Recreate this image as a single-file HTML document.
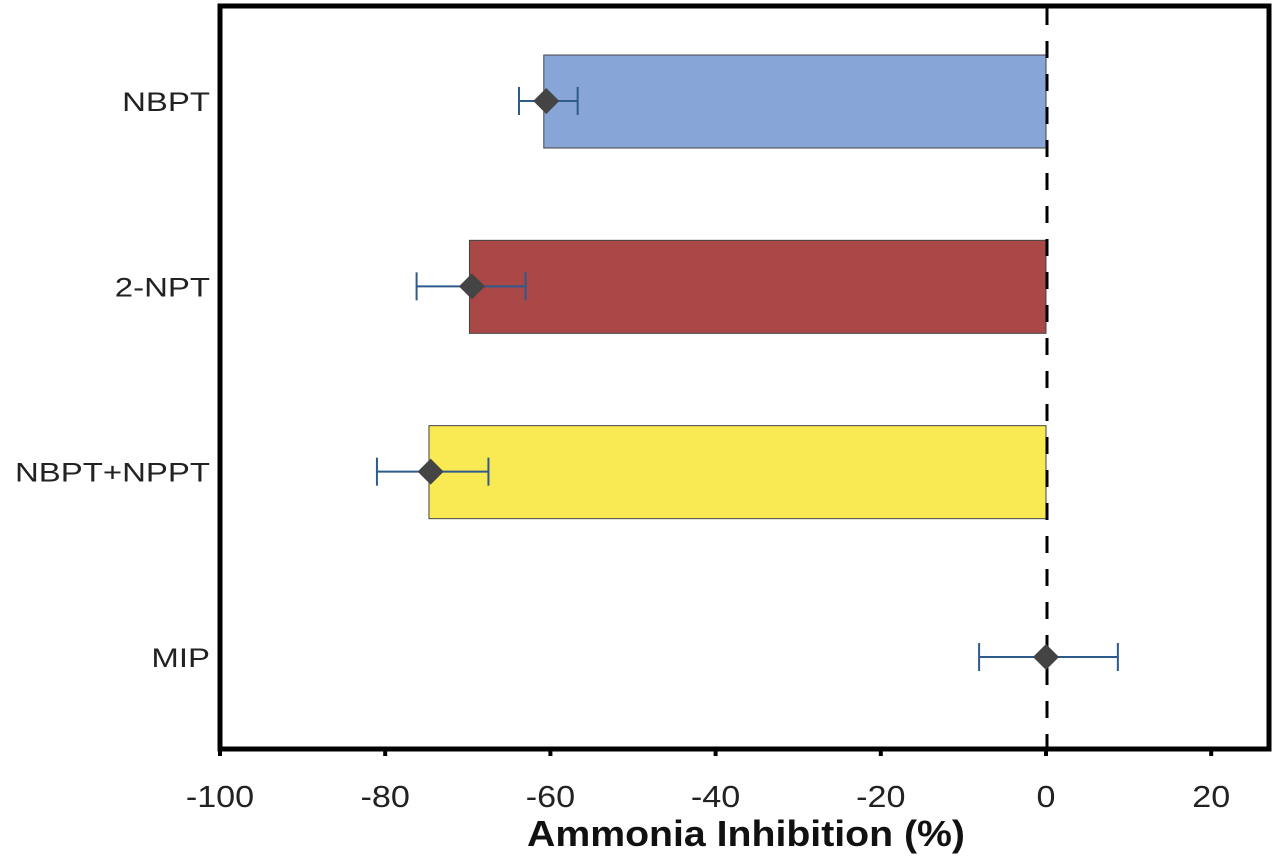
<!DOCTYPE html>
<html><head><meta charset="utf-8"><style>
body{margin:0;background:#fff;width:1279px;height:854px;overflow:hidden}
text{font-family:"Liberation Sans",Arial,sans-serif}
</style></head><body>
<svg id="c" width="1279" height="854"></svg>
<script>
const categories=["NBPT","2-NPT","NBPT+NPPT","MIP"];
const barValues=[-60.8,-69.8,-74.7,0];
const meanValues=[-60.5,-69.5,-74.5,0];
const errLow=[-63.8,-76.2,-81,-8.1];
const errHigh=[-56.7,-63,-67.5,8.7];
const barColors=["#87a5d7","#a94847","#f9e952","#ffffff"];
const xTicks=[-100,-80,-60,-40,-20,0,20];
const ns="http://www.w3.org/2000/svg";
const svg=document.getElementById('c');
function X(v){return 1046+(v)*8.26;}
const rowY=[101,286,472,657];
function Y(i){return rowY[0]+i*((rowY[3]-rowY[0])/3);}
function mk(t,a,p){const e=document.createElementNS(ns,t);for(const k in a)e.setAttribute(k,a[k]);(p||svg).appendChild(e);return e;}
let e;
e=mk('rect',{x:220,y:6,width:1049,height:743,fill:'none',stroke:'#000','stroke-width':5});


for(let i=0;i<categories.length;i++){
  const y=Y(i);
  if(barValues[i]!==0){
    e=mk('rect',{x:X(barValues[i]),y:y-46,width:X(0)-X(barValues[i]),height:93,fill:barColors[i],stroke:'#444','stroke-width':1});
    
    
  }
  const s=categories[i];
  let w=0;for(const ch of s)w+=(ch==='-'?0.333:ch==='+'?0.584:ch==='2'?0.556:ch==='I'?0.278:ch==='M'?0.833:0.667);
  e=mk('text',{x:210,y:y+10,'text-anchor':'end','font-size':27,fill:'#222','textLength':w*27*1.22,'lengthAdjust':'spacingAndGlyphs'});
  e.textContent=s;
  
  
}
e=mk('line',{x1:X(0)+1,x2:X(0)+1,y1:8,y2:747,stroke:'#000','stroke-width':3,'stroke-dasharray':'17 16'});


for(let i=0;i<categories.length;i++){
  const y=Y(i);
  const g=mk('g',{});
  
  
  mk('line',{x1:X(errLow[i]),x2:X(errHigh[i]),y1:y,y2:y,stroke:'#2e5a8e','stroke-width':2},g);
  mk('line',{x1:X(errLow[i]),x2:X(errLow[i]),y1:y-14,y2:y+14,stroke:'#2e5a8e','stroke-width':2},g);
  mk('line',{x1:X(errHigh[i]),x2:X(errHigh[i]),y1:y-14,y2:y+14,stroke:'#2e5a8e','stroke-width':2},g);
  const cx=X(meanValues[i]);
  e=mk('polygon',{points:`${cx},${y-13} ${cx+13},${y} ${cx},${y+13} ${cx-13},${y}`,fill:'#444'});
  
  
}
for(const t of xTicks){
  e=mk('line',{x1:X(t),x2:X(t),y1:749,y2:756,stroke:'#000','stroke-width':4});
  
  
  e=mk('text',{x:X(t),y:807,'text-anchor':'middle','font-size':31,fill:'#222','textLength':(String(t).length*0.556+(t<0?-0.22:0))*31*1.1,'lengthAdjust':'spacingAndGlyphs'});
  e.textContent=t;
  
  
}
e=mk('text',{x:746,y:846,'text-anchor':'middle','font-size':36,'font-weight':'bold',fill:'#111','textLength':438,'lengthAdjust':'spacingAndGlyphs'});
e.textContent='Ammonia Inhibition (%)';


</script>
</body></html>
